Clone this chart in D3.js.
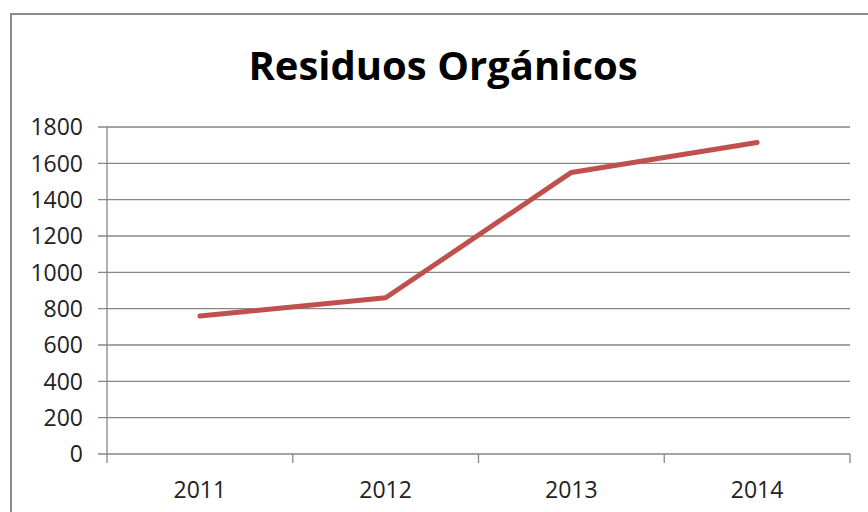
<!DOCTYPE html>
<html>
<head>
<meta charset="utf-8">
<script src="https://cdn.jsdelivr.net/npm/d3@7"></script>
<style>
  body { margin: 0; background: #fff; }
  text { font-family: "Open Sans", "Liberation Sans", sans-serif; }
</style>
</head>
<body>
<div id="chart"></div>
<script>
var years = ["2011", "2012", "2013", "2014"];
var residuos = [760, 860, 1550, 1715];
var yTicks = [0, 200, 400, 600, 800, 1000, 1200, 1400, 1600, 1800];
var title = "Residuos Orgánicos";

var width = 868, height = 512;
var plotLeft = 107, plotRight = 850, plotTop = 127, plotBottom = 454;
var gridColor = "#868686", lineColor = "#C0504D";

var svg = d3.select("#chart")
    .append("svg")
    .attr("width", width)
    .attr("height", height);

// chart frame
svg.append("rect")
    .attr("x", 11)
    .attr("y", 14)
    .attr("width", 900)
    .attr("height", 600)
    .attr("fill", "#fff")
    .attr("stroke", "#8a8a8a")
    .attr("stroke-width", 2);

svg.append("text")
    .attr("x", 443)
    .attr("y", 80)
    .attr("text-anchor", "middle")
    .attr("font-size", "40px")
    .attr("font-weight", "bold")
    .attr("fill", "#000")
    .text(title);

var x = d3.scaleBand().domain(years).range([plotLeft, plotRight]);
var y = d3.scaleLinear().domain([0, 1800]).range([plotBottom, plotTop]);

// horizontal gridlines
svg.append("g")
    .selectAll("line")
    .data(yTicks)
    .enter()
    .append("line")
    .attr("x1", plotLeft - 9)
    .attr("x2", plotRight)
    .attr("y1", function (d) { return y(d); })
    .attr("y2", function (d) { return y(d); })
    .attr("stroke", gridColor)
    .attr("stroke-width", 1.3);

// y axis line
svg.append("line")
    .attr("x1", plotLeft).attr("x2", plotLeft)
    .attr("y1", plotTop).attr("y2", plotBottom)
    .attr("stroke", gridColor)
    .attr("stroke-width", 1.3);

// y labels
svg.append("g")
    .selectAll("text")
    .data(yTicks)
    .enter()
    .append("text")
    .attr("x", 83)
    .attr("y", function (d) { return y(d); })
    .attr("dy", "0.36em")
    .attr("text-anchor", "end")
    .attr("font-size", "23px")
    .attr("fill", "#222")
    .text(function (d) { return d; });

// x tick marks at band edges
var edges = years.map(function (d) { return x(d); }).concat([plotRight]);
svg.append("g")
    .selectAll("line")
    .data(edges)
    .enter()
    .append("line")
    .attr("x1", function (d) { return d; })
    .attr("x2", function (d) { return d; })
    .attr("y1", plotBottom)
    .attr("y2", plotBottom + 9)
    .attr("stroke", gridColor)
    .attr("stroke-width", 1.3);

// x labels
svg.append("g")
    .selectAll("text")
    .data(years)
    .enter()
    .append("text")
    .attr("x", function (d) { return x(d) + x.bandwidth() / 2; })
    .attr("y", 498)
    .attr("text-anchor", "middle")
    .attr("font-size", "23px")
    .attr("fill", "#222")
    .text(function (d) { return d; });

var line = d3.line()
    .x(function (d, i) { return x(years[i]) + x.bandwidth() / 2; })
    .y(function (d) { return y(d); });

svg.append("path")
    .datum(residuos)
    .attr("d", line)
    .attr("fill", "none")
    .attr("stroke", lineColor)
    .attr("stroke-width", 5)
    .attr("stroke-linecap", "round")
    .attr("stroke-linejoin", "round");
</script>
</body>
</html>
